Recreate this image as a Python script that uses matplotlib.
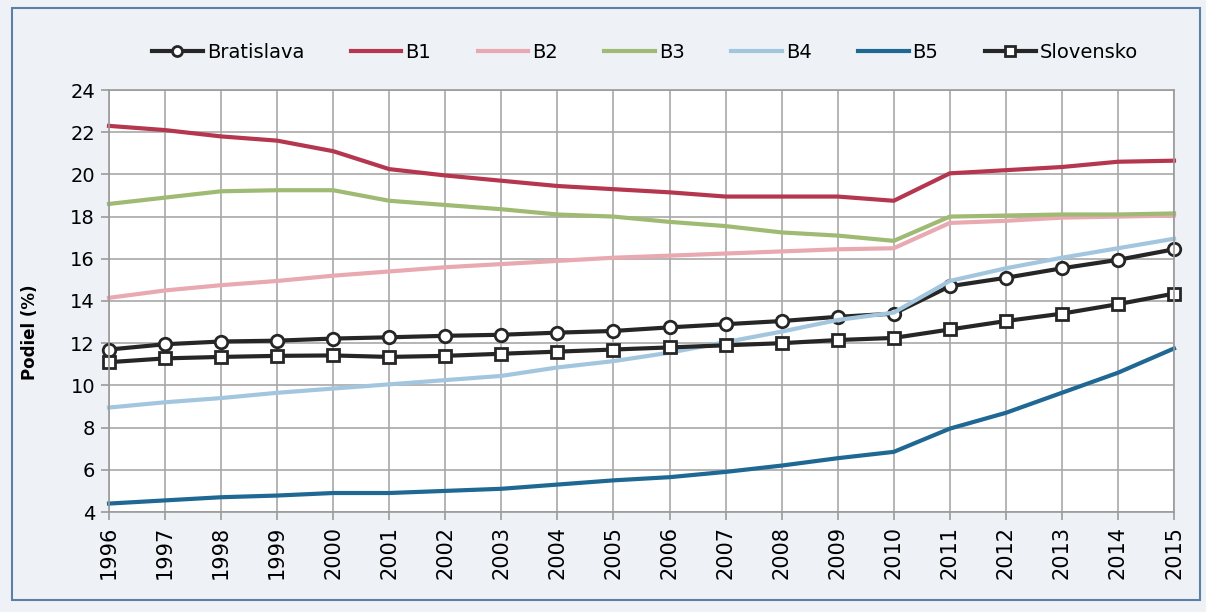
import matplotlib.pyplot as plt
from matplotlib.patches import Rectangle

years = list(range(1996, 2016))

bratislava = [11.7, 11.95, 12.08, 12.12, 12.22, 12.28, 12.35, 12.4, 12.5, 12.58,
              12.75, 12.9, 13.05, 13.25, 13.4, 14.7, 15.1, 15.55, 15.95, 16.45]
b1 = [22.3, 22.1, 21.8, 21.6, 21.1, 20.25, 19.95, 19.7, 19.45, 19.3,
      19.15, 18.95, 18.95, 18.95, 18.75, 20.05, 20.2, 20.35, 20.6, 20.65]
b2 = [14.15, 14.5, 14.75, 14.95, 15.2, 15.4, 15.6, 15.75, 15.9, 16.05,
      16.15, 16.25, 16.35, 16.45, 16.5, 17.7, 17.8, 17.95, 18.0, 18.05]
b3 = [18.6, 18.9, 19.2, 19.25, 19.25, 18.75, 18.55, 18.35, 18.1, 18.0,
      17.75, 17.55, 17.25, 17.1, 16.85, 18.0, 18.05, 18.1, 18.1, 18.15]
b4 = [8.95, 9.2, 9.4, 9.65, 9.85, 10.05, 10.25, 10.45, 10.85, 11.15,
      11.55, 12.05, 12.55, 13.1, 13.45, 14.95, 15.55, 16.05, 16.5, 16.95]
b5 = [4.4, 4.55, 4.7, 4.78, 4.9, 4.9, 5.0, 5.1, 5.3, 5.5,
      5.65, 5.9, 6.2, 6.55, 6.85, 7.95, 8.7, 9.65, 10.6, 11.75]
slovensko = [11.1, 11.28, 11.35, 11.4, 11.42, 11.35, 11.4, 11.5, 11.6, 11.7,
             11.8, 11.9, 12.0, 12.15, 12.25, 12.65, 13.05, 13.4, 13.85, 14.35]

yticks = list(range(4, 25, 2))

plt.rcParams['font.family'] = ['DejaVu Sans']

fig = plt.figure(figsize=(12.06, 6.12), dpi=100, facecolor='#eef2f6')
# scan frame
fig.patches.append(Rectangle((12 / 1206, 1 - 600 / 612), 1188 / 1206, 592 / 612,
                             transform=fig.transFigure, fill=False,
                             edgecolor='#5a7fa8', lw=1.5))

ax = fig.add_axes([109 / 1206, 1 - 512 / 612, 1065 / 1206, 422 / 612])
ax.set_facecolor('white')

black = '#262626'
ax.plot(years, bratislava, color=black, lw=3, marker='o', ms=9,
        mfc='white', mec=black, mew=2, label='Bratislava', clip_on=False)
ax.plot(years, b1, color='#b5364f', lw=3, label='B1', clip_on=False)
ax.plot(years, b2, color='#e8a9b1', lw=3, label='B2', clip_on=False)
ax.plot(years, b3, color='#9fba73', lw=3, label='B3', clip_on=False)
ax.plot(years, b4, color='#a3c6df', lw=3, label='B4', clip_on=False)
ax.plot(years, b5, color='#1f6893', lw=3, label='B5', clip_on=False)
ax.plot(years, slovensko, color=black, lw=3, marker='s', ms=9,
        mfc='white', mec=black, mew=2, label='Slovensko', clip_on=False)

ax.set_xlim(1996, 2015)
ax.set_ylim(4, 24)
ax.set_xticks(years)
ax.set_xticklabels([str(y) for y in years], rotation=90, fontsize=15)
ax.set_yticks(yticks)
ax.set_yticklabels([str(v) for v in yticks], fontsize=14)
ax.tick_params(axis='both', color='#9a9a9a', length=6, width=1.2, pad=4)
ax.grid(True, color='#a8a8a8', lw=1.2)
ax.set_axisbelow(True)
for s in ax.spines.values():
    s.set_color('#9a9a9a')
    s.set_linewidth(1.2)

fig.text(30 / 1206, 1 - 332 / 612, 'Podiel (%)', rotation=90, fontsize=12,
         fontweight='bold', ha='center', va='center')

leg = fig.legend(loc='center', bbox_to_anchor=(645 / 1206, 1 - 52 / 612), ncol=7,
                 frameon=False, fontsize=14, handlelength=2.6, handletextpad=0.2,
                 columnspacing=2.4, markerscale=0.8)

fig.savefig('out.png', dpi=100, facecolor=fig.get_facecolor())
